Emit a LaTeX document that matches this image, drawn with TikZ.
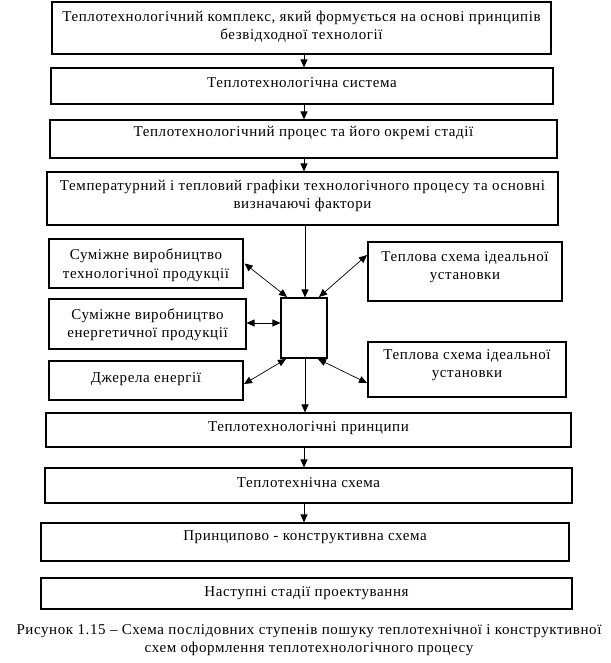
\documentclass[tikz,border=0pt]{standalone}
\usepackage{fontspec}
\setmainfont{Liberation Serif}[LetterSpace=4]
\usetikzlibrary{arrows.meta,calc}
\begin{document}
\begin{tikzpicture}[x=1pt,y=-1pt,
  box/.style={draw, line width=1.1pt, inner sep=0pt},
  txt/.style={inner sep=0pt, align=center, font=\fontsize{15}{18.5}\selectfont},
  arr/.style={line width=0.9pt, -{Triangle[length=8pt,width=7pt]}},
  darr/.style={line width=0.7pt, {Triangle[length=8pt,width=7pt]}-{Triangle[length=8pt,width=7pt]}}
]
\useasboundingbox (0,0) rectangle (610,663);
% main column
\node[box, minimum width=499pt, minimum height=52pt] (b1) at (301.5,28) {};
\node[box, minimum width=502pt, minimum height=36pt] (b2) at (302,86) {};
\node[box, minimum width=507pt, minimum height=38pt] (b3) at (303.5,139) {};
\node[box, minimum width=511pt, minimum height=53pt] (b4) at (302.5,198.5) {};
\node[box, minimum width=525pt, minimum height=34pt] (b5) at (308.5,430) {};
\node[box, minimum width=527pt, minimum height=35pt] (b6) at (308.5,485.5) {};
\node[box, minimum width=528pt, minimum height=38pt] (b7) at (305,542) {};
\node[box, minimum width=531pt, minimum height=31pt] (b8) at (306.5,593.5) {};
% side boxes
\node[box, minimum width=194pt, minimum height=49pt] (l1) at (146,263.5) {};
\node[box, minimum width=197pt, minimum height=50pt] (l2) at (147.5,324) {};
\node[box, minimum width=194pt, minimum height=39pt] (l3) at (146,380.5) {};
\node[box, minimum width=194pt, minimum height=59pt] (r1) at (465,271.5) {};
\node[box, minimum width=198pt, minimum height=55pt] (r2) at (467,369.5) {};
\node[box, minimum width=46pt, minimum height=60pt] (c) at (304,328) {};
% texts
\node[txt] (t1) at (301.5,26.5) {Теплотехнологічний комплекс, який формується на основі принципів\\безвідходної технології};
\node[txt] (t2) at (302,83) {Теплотехнологічна система};
\node[txt] (t3) at (303.5,133) {Теплотехнологічний процес та його окремі стадії};
\node[txt] (t4) at (302.5,196) {Температурний і тепловий графіки технологічного процесу та основні\\визначаючі фактори};
\node[txt] (tl1) at (146,265) {Суміжне виробництво\\технологічної продукції};
\node[txt] (tl2) at (147.5,324.5) {Суміжне виробництво\\енергетичної продукції};
\node[txt] (tl3) at (146,379) {Джерела енергії};
\node[txt] (tr1) at (465,267) {Теплова схема ідеальної\\установки};
\node[txt] (tr2) at (467,365) {Теплова схема ідеальної\\установки};
\node[txt] (t5) at (308.5,428) {Теплотехнологічні принципи};
\node[txt] (t6) at (308.5,483) {Теплотехнічна схема};
\node[txt] (t7) at (305,537) {Принципово - конструктивна схема};
\node[txt] (t8) at (306.5,593) {Наступні стадії проектування};
\node[txt] (cap) at (309,640) {Рисунок 1.15 – Схема послідовних ступенів пошуку теплотехнічної і конструктивної\\схем оформлення теплотехнологічного процесу};
% axis
\coordinate (ax) at (304,0);
\coordinate (axm) at (305,0);
\draw[arr] (b1.south -| ax) -- (b2.north -| ax);
\draw[arr] (b2.south -| ax) -- (b3.north -| ax);
\draw[arr] (b3.south -| ax) -- (b4.north -| ax);
\draw[arr] (b4.south -| axm) -- (c.north -| axm);
\draw[arr] (c.south -| axm) -- (b5.north -| axm);
\draw[arr] (b5.south -| ax) -- (b6.north -| ax);
\draw[arr] (b6.south -| ax) -- (b7.north -| ax);
% side connectors
\coordinate (cl1) at (287,297);
\coordinate (cr1) at (319,297);
\coordinate (cl3) at (286,359);
\coordinate (cr2) at (318,359);
\coordinate (r1w) at (367,255);
\coordinate (r2w) at (367,383);
\coordinate (l3e) at (244,384);
\draw[darr] ($(l1.east)+(1,0)$) -- (cl1);
\draw[darr] ($(l2.east)+(0,-1)$) -- ($(l2.east -| c.west)+(0,-1)$);
\draw[darr] (l3e) -- (cl3);
\draw[darr] (cr1) -- (r1w);
\draw[darr] (cr2) -- (r2w);
\end{tikzpicture}
\end{document}
